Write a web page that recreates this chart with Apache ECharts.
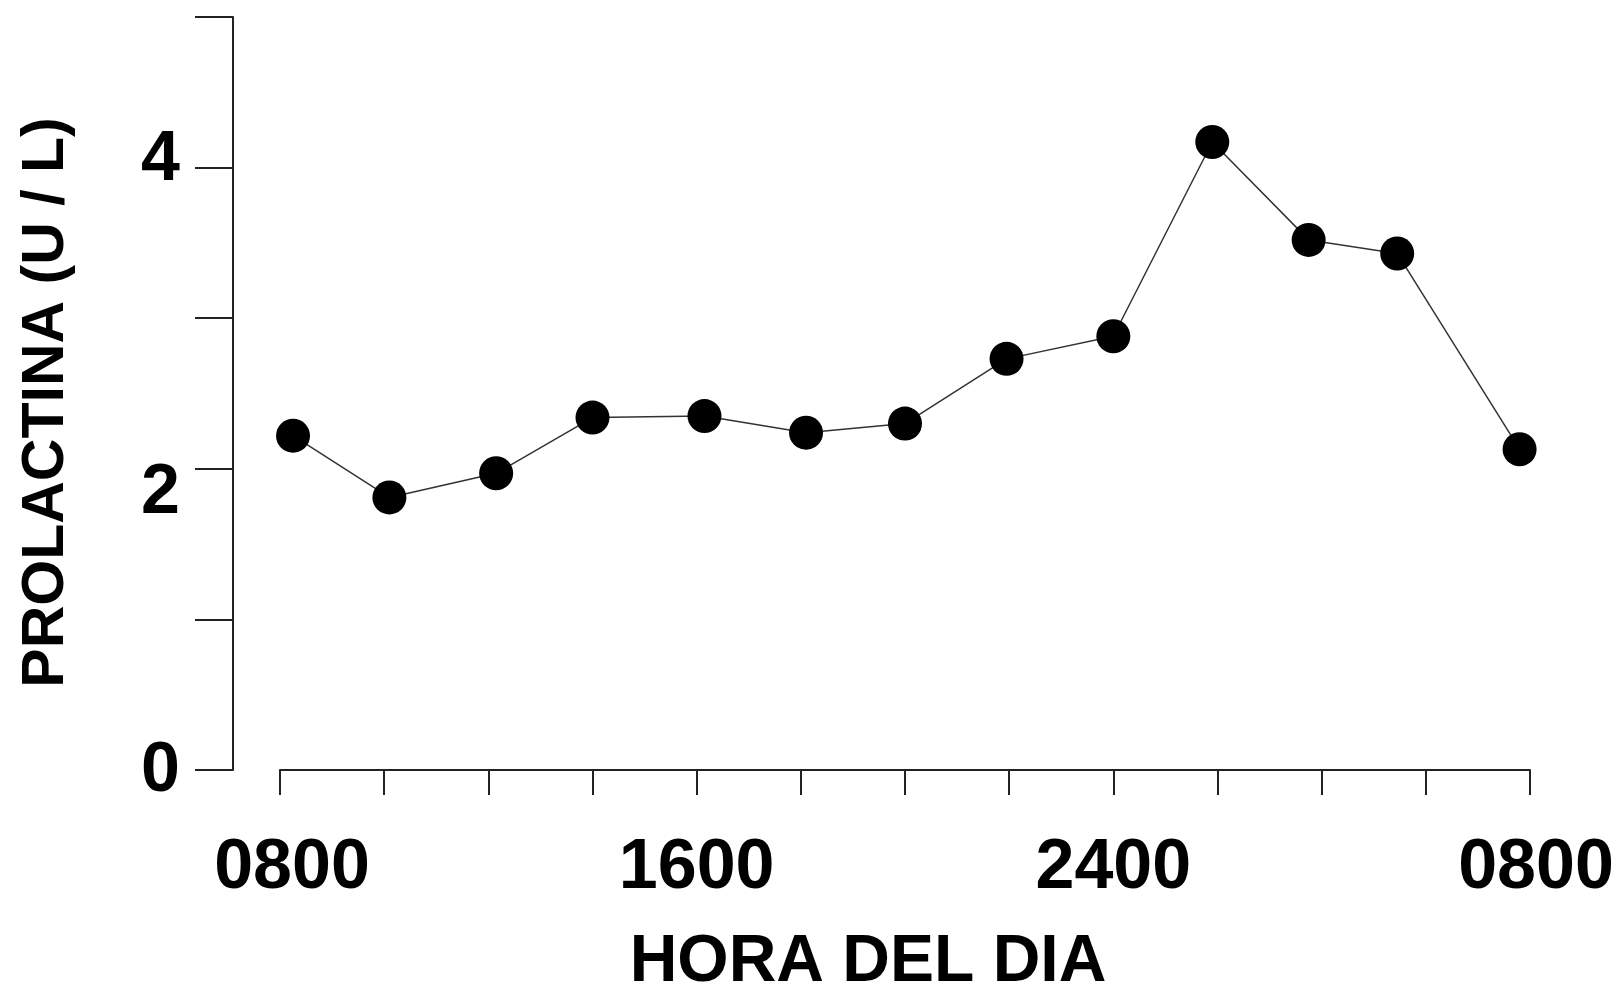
<!DOCTYPE html>
<html>
<head>
<meta charset="utf-8">
<script src="https://cdn.jsdelivr.net/npm/echarts@6/dist/echarts.min.js"></script>
<style>
    html, body { margin: 0; padding: 0; background: #fff; }
    #chart { width: 1616px; height: 984px; }
</style>
</head>
<body>
<div id="chart"></div>
<script>
(function () {

    // sampling hour (8 = 0800 on day 1, 32 = 0800 next day)
    var hours = [8.25, 10.1, 12.15, 14, 16.15, 18.1, 20, 21.95, 24, 25.9, 27.75, 29.45, 31.8];
    var prolactin = [2.22, 1.81, 1.97, 2.34, 2.35, 2.24, 2.3, 2.73, 2.88, 4.17, 3.52, 3.43, 2.13];

    var xTickHours = [8, 16, 24, 32];
    var xTickLabels = ['0800', '1600', '2400', '0800'];
    var yTickLabels = [0, 2, 4];

    var points = hours.map((h, i) => [h, prolactin[i]]);
    var font = "'Liberation Sans', Arial, sans-serif";
    var axisColor = '#222';

    function labelStyle(padding) {
        return {
            fontFamily: font,
            fontWeight: 'bold',
            fontSize: 70,
            color: '#000',
            padding: padding
        };
    }

    var option = {
        backgroundColor: '#fff',
        animation: false,
        grid: {
            left: 280,
            right: 86,
            top: 17,
            bottom: 214,
            outerBoundsMode: 'none'
        },
        xAxis: {
            type: 'value',
            min: 8,
            max: 32,
            interval: 2,
            offset: 2,
            name: 'HORA DEL DIA',
            nameLocation: 'middle',
            nameGap: 158,
            nameTextStyle: {
                fontFamily: font,
                fontWeight: 'bold',
                fontSize: 66,
                color: '#000',
                padding: [0, 74, 0, 0]
            },
            axisLine: { lineStyle: { color: axisColor, width: 2 } },
            axisTick: { length: 25, lineStyle: { color: axisColor, width: 2 } },
            splitLine: { show: false },
            axisLabel: {
                margin: 62,
                fontFamily: font,
                fontWeight: 'bold',
                fontSize: 70,
                color: '#000',
                showMinLabel: true,
                showMaxLabel: true,
                formatter: function (v) {
                    var i = xTickHours.indexOf(v);
                    if (i < 0) return '';
                    if (i === 0) return '{first|' + xTickLabels[i] + '}';
                    if (i === xTickLabels.length - 1) return '{last|' + xTickLabels[i] + '}';
                    return '{mid|' + xTickLabels[i] + '}';
                },
                rich: {
                    first: labelStyle([0, 0, 0, 24]),
                    mid: labelStyle(0),
                    last: labelStyle([0, 0, 0, 12])
                }
            }
        },
        yAxis: {
            type: 'value',
            min: 0,
            max: 5,
            interval: 1,
            offset: 47,
            name: 'PROLACTINA (U / L)',
            nameLocation: 'middle',
            nameGap: 157,
            nameTextStyle: {
                fontFamily: font,
                fontWeight: 'bold',
                fontSize: 59,
                color: '#000',
                padding: [0, 18, 0, 0]
            },
            axisLine: { show: true, lineStyle: { color: axisColor, width: 2 } },
            axisTick: { show: true, length: 38, lineStyle: { color: axisColor, width: 2 } },
            splitLine: { show: false },
            axisLabel: {
                margin: 53,
                fontFamily: font,
                fontWeight: 'bold',
                fontSize: 70,
                color: '#000',
                formatter: function (v) {
                    if (yTickLabels.indexOf(v) < 0) return '';
                    return '{y' + v + '|' + v + '}';
                },
                rich: {
                    y0: labelStyle([4, 0, 0, 0]),
                    y2: labelStyle([50, 0, 0, 0]),
                    y4: labelStyle([0, 0, 14, 0])
                }
            }
        },
        series: [
            {
                type: 'line',
                data: points,
                symbol: 'circle',
                symbolSize: 34,
                itemStyle: { color: '#000' },
                lineStyle: { color: '#333', width: 1.5 }
            }
        ]
    };

    var myChart = echarts.init(document.getElementById('chart'));
    myChart.setOption(option);

})();
</script>
</body>
</html>
